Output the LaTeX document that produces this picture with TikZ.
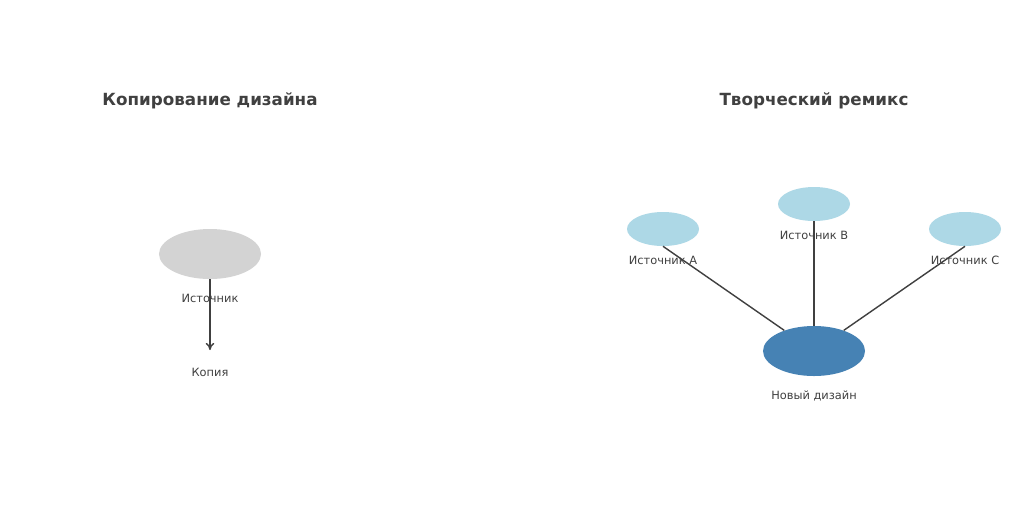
\documentclass[tikz,border=0pt]{standalone}
\usepackage{fontspec}
\setmainfont{DejaVu Sans}
\definecolor{srcgray}{HTML}{D3D3D3}
\definecolor{srcblue}{HTML}{ADD8E6}
\definecolor{newblue}{HTML}{4682B4}
\definecolor{txtgray}{HTML}{404040}
\tikzset{
  bigsrc/.style={ellipse,minimum width=2.55cm,minimum height=1.25cm,inner sep=0pt},
  smallsrc/.style={ellipse,fill=srcblue,minimum width=1.8cm,minimum height=0.85cm,inner sep=0pt},
  lbl/.style={font=\fontsize{8.1}{10}\selectfont,text=txtgray},
  ttl/.style={font=\fontsize{11.9}{14}\selectfont\bfseries,text=txtgray},
  link/.style={draw=txtgray,line width=1pt}
}
\usetikzlibrary{shapes.geometric,arrows.meta}
\begin{document}
\begin{tikzpicture}[x=0.025cm,y=-0.025cm]
 \useasboundingbox[fill=white] (0,0) rectangle (1024,508);
 % left: copying
 \node[ttl] (ttlcopy) at (210,101) {Копирование дизайна};
 \node[bigsrc,fill=srcgray] (src) at (210,254) {};
 \node[lbl] (srclbl) at (210,298) {Источник};
 \coordinate (copyend) at (210,350);
 \node[lbl] (copylbl) at (210,372) {Копия};
 \draw[link,-{To[length=5pt,width=6pt]}] (src) -- (copyend);
 % right: remix
 \node[ttl] (ttlremix) at (814,101) {Творческий ремикс};
 \node[smallsrc] (srca) at (663,229) {};
 \node[smallsrc] (srcb) at (814,204) {};
 \node[smallsrc] (srcc) at (965,229) {};
 \node[bigsrc,fill=newblue] (new) at (814,351) {};
 \draw[link] (srca.south) -- (new);
 \draw[link] (srcb.south) -- (new);
 \draw[link] (srcc.south) -- (new);
 \node[lbl] (lbla) at (663,260) {Источник A};
 \node[lbl] (lblb) at (814,235) {Источник B};
 \node[lbl] (lblc) at (965,260) {Источник C};
 \node[lbl] (newlbl) at (814,396) {Новый дизайн};
\end{tikzpicture}
\end{document}
